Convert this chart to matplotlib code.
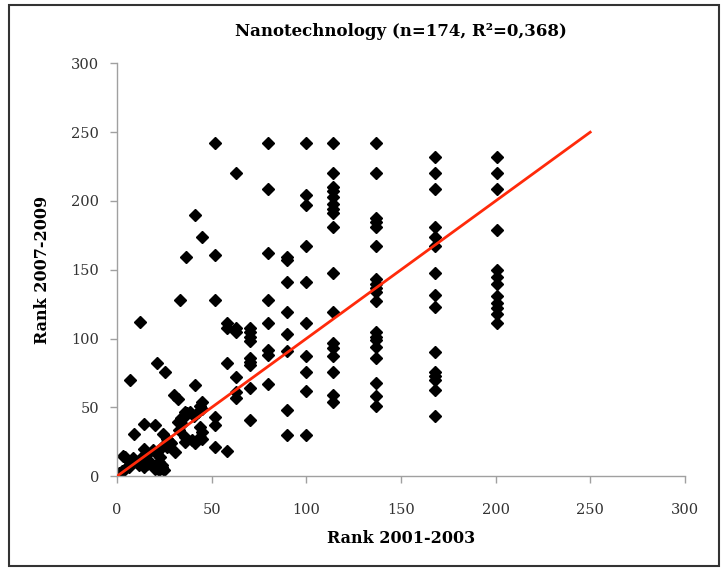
import matplotlib
matplotlib.use("Agg")
import matplotlib.pyplot as plt
from matplotlib.patches import Rectangle

# ranks that sit on shared (tied) 2001-2003 positions
col_x = [52, 58, 63, 70, 80, 90, 100, 114, 137, 168, 201]
col_y = [
    [242, 161, 128, 43, 37, 21],
    [111, 108, 82, 18],
    [220, 108, 105, 72, 61, 57],
    [108, 105, 101, 98, 86, 83, 81, 64, 41],
    [242, 209, 162, 128, 111, 92, 88, 67],
    [159, 157, 141, 119, 103, 91, 48, 30],
    [242, 204, 197, 167, 141, 111, 87, 76, 62, 30],
    [242, 220, 210, 207, 203, 198, 194, 191, 181, 148, 119, 97, 93, 87, 76, 59, 54],
    [242, 220, 188, 185, 181, 167, 143, 140, 137, 134, 127, 105, 101, 99, 94, 86, 68, 58, 51],
    [232, 220, 209, 181, 174, 167, 148, 132, 123, 90, 76, 73, 70, 63, 44],
    [232, 220, 209, 179, 150, 145, 140, 131, 126, 122, 118, 111],
]

# the rest, mostly the dense cluster near the origin
low_x = [45, 41, 36.5, 33, 12, 7, 21, 25.4, 30, 32.4, 41, 45, 44, 45, 43,
         36, 36, 34, 32, 14, 20, 8.7, 24.5, 26.4, 28, 26.4, 36, 36, 44, 45,
         44, 45, 39.6, 41.4, 30.8, 23.6, 22.7, 23.6, 19, 21, 14, 15.7, 16.5,
         12, 4.4, 8.6, 10.4, 6.9, 18, 20, 14, 15.7, 0, 1, 2.6, 4.4, 6.2, 13.2,
         32.6, 34.3, 37, 38.7, 40.5, 11.5, 22, 23.8, 22, 24.6, 3.3, 28.7]
low_y = [174, 190, 159, 128, 112, 70, 82, 76, 59, 56, 66, 54, 51, 49, 47,
         47, 44, 42, 39.5, 38, 37, 31, 31, 27.4, 25, 21.3, 28.6, 25, 36, 32,
         28.6, 27, 26, 23.8, 17.7, 21.3, 14, 6.8, 19, 16.5, 20, 16.5, 11.6,
         11.6, 14, 13, 10.4, 9.2, 9.2, 5.6, 6.8, 9.2, 0.7, 2.4, 3.9, 5.6, 6.8, 14,
         33.5, 38, 45.6, 46.8, 44, 8, 10.4, 8, 4.4, 4.4, 15, 23.8]

fit_x = [0, 250]
fit_y = [0, 250]

xs = list(low_x)
ys = list(low_y)
for cx, cys in zip(col_x, col_y):
    xs += [cx] * len(cys)
    ys += cys

plt.rcParams["font.family"] = ["DejaVu Serif"]

fig = plt.figure(figsize=(7.27, 5.71), dpi=100)
ax = fig.add_axes([0.161, 0.166, 0.781, 0.723])

ax.plot(xs, ys, linestyle="none", marker="D", markersize=6, color="black", zorder=2)
ax.plot(fit_x, fit_y, color="#ff2a0a", linewidth=2.0, zorder=3)

ax.set_xlim(0, 300)
ax.set_ylim(0, 300)
ax.set_xticks(range(0, 301, 50))
ax.set_yticks(range(0, 301, 50))
for s in ["top", "right"]:
    ax.spines[s].set_visible(False)
for s in ["left", "bottom"]:
    ax.spines[s].set_color("#a0a0a0")
    ax.spines[s].set_linewidth(1.0)
ax.tick_params(colors="#a0a0a0", labelcolor="#333333", labelsize=10.5, length=5, width=1.0)
ax.tick_params(axis="x", pad=14)
ax.tick_params(axis="y", pad=8)

ax.set_title("Nanotechnology (n=174, R²=0,368)", fontsize=12, fontweight="bold", pad=20)
ax.set_xlabel("Rank 2001-2003", fontsize=11.5, fontweight="bold", labelpad=10)
ax.set_ylabel("Rank 2007-2009", fontsize=11.5, fontweight="bold", labelpad=14)

fig.patches.append(Rectangle((0.013, 0.009), 0.976, 0.982, transform=fig.transFigure,
                             fill=False, edgecolor="#333333", linewidth=1.5))

fig.savefig("out.png", dpi=100)
